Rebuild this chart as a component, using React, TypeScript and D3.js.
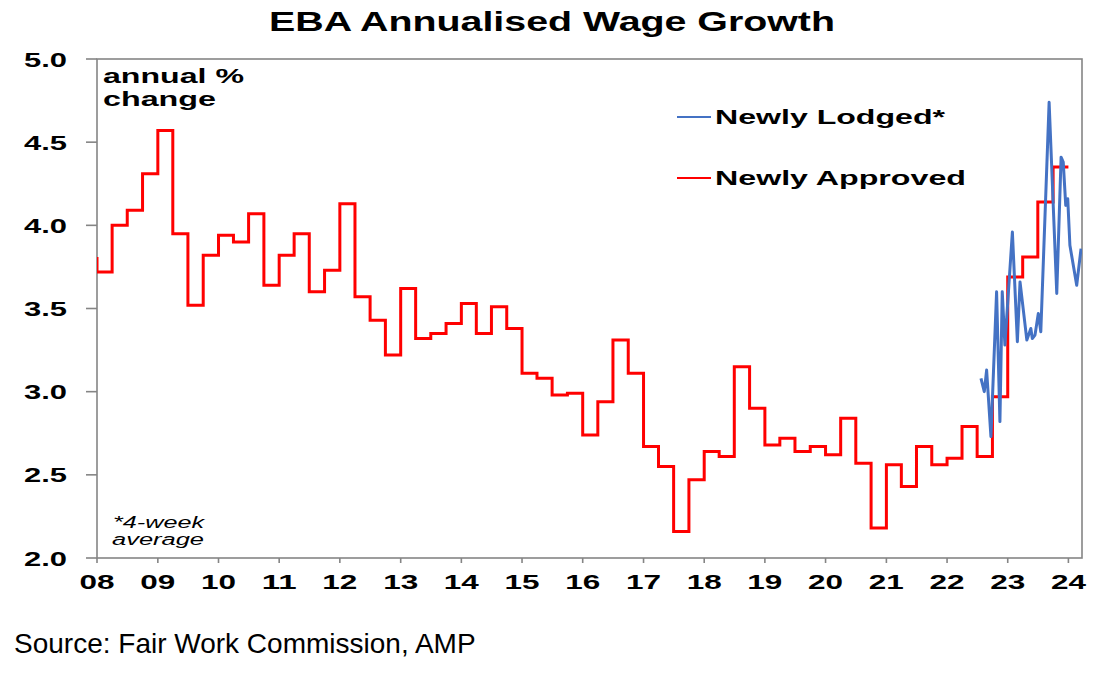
import * as d3 from "d3";
import { useEffect, useRef } from "react";

const WIDTH = 1118;
const HEIGHT = 681;

// Newly approved: quarterly values, first entry is 2007 Q4 (clipped at the left edge)
const approvedStartYear = 2007;
const approvedStartQuarter = 3; // 0-based, Q4
const approvedValues = [
    3.80,
    3.72, 4.00, 4.09, 4.31,
    4.57, 3.95, 3.52, 3.82,
    3.94, 3.90, 4.07, 3.64,
    3.82, 3.95, 3.60, 3.73,
    4.13, 3.57, 3.43, 3.22,
    3.62, 3.32, 3.35, 3.41,
    3.53, 3.35, 3.51, 3.38,
    3.11, 3.08, 2.98, 2.99,
    2.74, 2.94, 3.31, 3.11,
    2.67, 2.55, 2.16, 2.47,
    2.64, 2.61, 3.15, 2.90,
    2.68, 2.72, 2.64, 2.67,
    2.62, 2.84, 2.57, 2.18,
    2.56, 2.43, 2.67, 2.56,
    2.60, 2.79, 2.61, 2.97,
    3.69, 3.81, 4.14, 4.35
];
const approvedEnd = "2024-01-01";

// Newly lodged (4-week average)
const lodgedDates = [
    "2022-07-24", "2022-08-13", "2022-08-27", "2022-09-22", "2022-10-26",
    "2022-11-15", "2022-11-29", "2022-12-15", "2023-01-29", "2023-02-28",
    "2023-03-16", "2023-04-26", "2023-05-20", "2023-05-29", "2023-06-14",
    "2023-07-04", "2023-07-19", "2023-09-07", "2023-10-23", "2023-11-18",
    "2023-12-01", "2023-12-16", "2023-12-28", "2024-01-10", "2024-02-20",
    "2024-03-17"
];
const lodgedValues = [
    3.08, 3.00, 3.13, 2.73, 3.60,
    2.82, 3.60, 3.28, 3.96, 3.30,
    3.66, 3.31, 3.38, 3.32, 3.34,
    3.47, 3.36, 4.74, 3.59, 4.41,
    4.38, 4.12, 4.16, 3.88, 3.64,
    3.86
];

const yTicks = [2.0, 2.5, 3.0, 3.5, 4.0, 4.5, 5.0];
const xTickYears = d3.range(2008, 2025);

function Chart() {
    const svgRef = useRef(null);

    useEffect(() => {
        const left = 97, right = 1082, top = 59, bottom = 558;
        const font = "'Liberation Sans', Arial, sans-serif";
        const grey = "#858585";

        const x = d3.scaleTime([new Date(2008, 0, 1), new Date(2024, 0, 1)], [left, 1068.4]);
        const y = d3.scaleLinear([2, 5], [bottom, top]);

        const svg = d3.select(svgRef.current);
        svg.selectAll("*").remove();

        svg.append("defs").append("clipPath").attr("id", "plot-clip")
            .append("rect")
            .attr("x", left).attr("y", top - 5)
            .attr("width", right - left).attr("height", bottom - top + 10);

        // title
        svg.append("text")
            .attr("x", 269).attr("y", 31)
            .attr("textLength", 566).attr("lengthAdjust", "spacingAndGlyphs")
            .style("font-family", font).style("font-weight", "bold").style("font-size", "27px")
            .text("EBA Annualised Wage Growth");

        // frame
        svg.append("rect")
            .attr("x", left).attr("y", top)
            .attr("width", right - left).attr("height", bottom - top)
            .attr("fill", "none").attr("stroke", grey).attr("stroke-width", 1.6);

        // y axis ticks & labels
        const yAxis = svg.append("g");
        yAxis.selectAll("line").data(yTicks).enter().append("line")
            .attr("x1", left - 11).attr("x2", left)
            .attr("y1", d => y(d)).attr("y2", d => y(d))
            .attr("stroke", grey).attr("stroke-width", 1.6);
        yAxis.selectAll("text").data(yTicks).enter().append("text")
            .attr("x", 67).attr("y", d => y(d) + 7.5)
            .attr("text-anchor", "end")
            .attr("textLength", 43).attr("lengthAdjust", "spacingAndGlyphs")
            .style("font-family", font).style("font-weight", "bold").style("font-size", "21px")
            .text(d => d.toFixed(1));

        // x axis ticks & labels
        const xAxis = svg.append("g");
        xAxis.selectAll("line").data(xTickYears).enter().append("line")
            .attr("x1", d => x(new Date(d, 0, 1))).attr("x2", d => x(new Date(d, 0, 1)))
            .attr("y1", bottom).attr("y2", bottom + 5)
            .attr("stroke", grey).attr("stroke-width", 1.6);
        xAxis.selectAll("text").data(xTickYears).enter().append("text")
            .attr("x", d => x(new Date(d, 0, 1))).attr("y", 589)
            .attr("text-anchor", "middle")
            .attr("textLength", 35).attr("lengthAdjust", "spacingAndGlyphs")
            .style("font-family", font).style("font-weight", "bold").style("font-size", "20px")
            .text(d => d3.timeFormat("%y")(new Date(d, 0, 1)));

        // approved (step) series
        const approved = approvedValues.map((v, i) => {
            const q = approvedStartQuarter + i;
            return { date: new Date(approvedStartYear + Math.floor(q / 4), (q % 4) * 3, 1), value: v };
        });
        approved.push({ date: new Date(approvedEnd), value: approvedValues[approvedValues.length - 1] });

        const lineGen = d3.line()
            .x(d => x(d.date))
            .y(d => y(d.value));

        const plot = svg.append("g").attr("clip-path", "url(#plot-clip)");
        plot.append("path")
            .datum(approved)
            .attr("d", lineGen.curve(d3.curveStepAfter))
            .attr("fill", "none").attr("stroke", "#ff0000").attr("stroke-width", 3)
            .attr("stroke-linejoin", "miter");

        const lodged = lodgedDates.map((d, i) => ({ date: new Date(d), value: lodgedValues[i] }));
        plot.append("path")
            .datum(lodged)
            .attr("d", d3.line().x(d => x(d.date)).y(d => y(d.value))(lodged))
            .attr("fill", "none").attr("stroke", "#4472c4").attr("stroke-width", 3)
            .attr("stroke-linejoin", "round");

        // unit label
        svg.append("text").attr("x", 103).attr("y", 83)
            .attr("textLength", 141).attr("lengthAdjust", "spacingAndGlyphs")
            .style("font-family", font).style("font-weight", "bold").style("font-size", "21px")
            .text("annual %");
        svg.append("text").attr("x", 103).attr("y", 106)
            .attr("textLength", 113).attr("lengthAdjust", "spacingAndGlyphs")
            .style("font-family", font).style("font-weight", "bold").style("font-size", "21px")
            .text("change");

        // legend
        const legend = [
            { label: "Newly Lodged*", color: "#4472c4", y: 117, w: 230 },
            { label: "Newly Approved", color: "#ff0000", y: 178, w: 251 }
        ];
        legend.forEach(l => {
            svg.append("line")
                .attr("x1", 677).attr("x2", 711).attr("y1", l.y).attr("y2", l.y)
                .attr("stroke", l.color).attr("stroke-width", 2);
            svg.append("text").attr("x", 715).attr("y", l.y + 7)
                .attr("textLength", l.w).attr("lengthAdjust", "spacingAndGlyphs")
                .style("font-family", font).style("font-weight", "bold").style("font-size", "21px")
                .text(l.label);
        });

        // footnote
        svg.append("text").attr("x", 113).attr("y", 528)
            .attr("textLength", 91).attr("lengthAdjust", "spacingAndGlyphs")
            .style("font-family", font).style("font-style", "italic").style("font-size", "16px")
            .text("*4-week");
        svg.append("text").attr("x", 112).attr("y", 545)
            .attr("textLength", 92).attr("lengthAdjust", "spacingAndGlyphs")
            .style("font-family", font).style("font-style", "italic").style("font-size", "16px")
            .text("average");

        // source
        svg.append("text").attr("x", 14).attr("y", 653)
            .style("font-family", font).style("font-size", "28px")
            .text("Source: Fair Work Commission, AMP");
    }, []);

    return (
        <svg ref={svgRef} width={WIDTH} height={HEIGHT}
            style={{ position: "absolute", left: 0, top: 0, background: "#fff" }} />
    );
}

export default function App() {
    return <Chart />;
}
